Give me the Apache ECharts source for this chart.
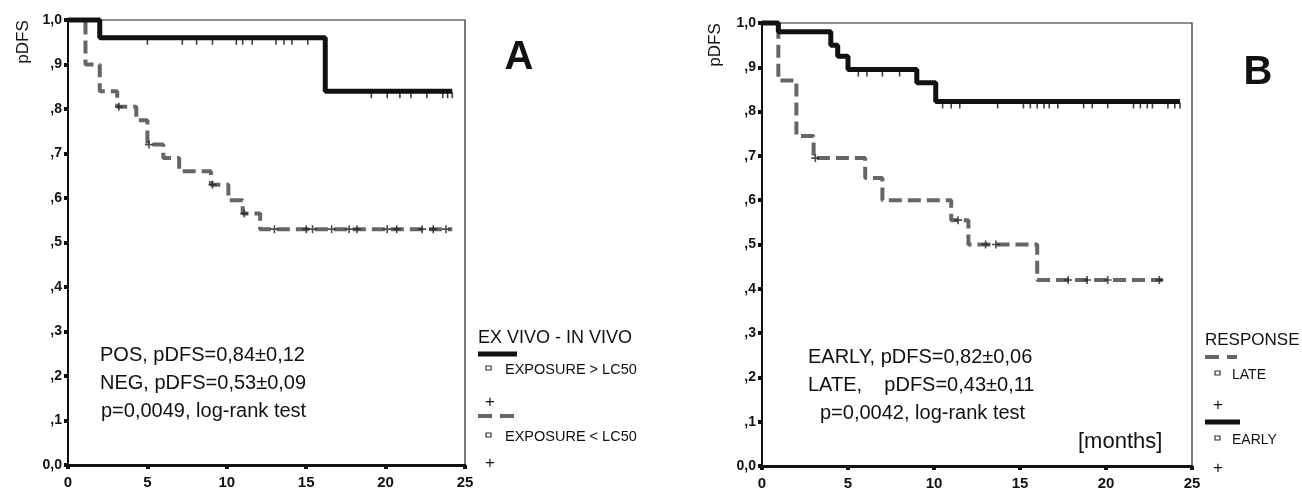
<!DOCTYPE html>
<html>
<head>
<meta charset="utf-8">
<script src="https://cdn.jsdelivr.net/npm/echarts@6/dist/echarts.min.js"></script>
<style>
  html, body { margin: 0; background: #fff; }
  #chart { width: 1302px; height: 491px; }
</style>
</head>
<body>
<div id="chart"></div>
<script>
// panel A: ex vivo - in vivo exposure (months, pDFS)
const aPosTime = [0, 2.0, 16.2, 24.2];
const aPosSurv = [1.0, 0.96, 0.84, 0.84];
const aPosCens = [5.0, 7.2, 8.1, 9.1, 10.6, 11.0, 11.6, 13.1, 13.6, 14.1, 15.1, 19.1, 20.1, 20.9, 21.6, 22.6, 23.6, 23.9, 24.2];
const aNegTime = [0, 1.1, 2.0, 3.1, 4.3, 5.0, 6.0, 7.0, 9.0, 10.1, 11.0, 12.1, 24.2];
const aNegSurv = [1.0, 0.90, 0.84, 0.805, 0.775, 0.72, 0.69, 0.66, 0.63, 0.595, 0.565, 0.53, 0.53];
const aNegCens = [3.2, 5.1, 9.1, 11.1, 13.0, 15.0, 15.4, 16.6, 17.7, 18.2, 20.1, 20.7, 22.3, 23.0, 23.8];

// panel B: response
const bEarlyTime = [0, 0.95, 4.0, 4.4, 5.0, 9.0, 10.1, 24.3];
const bEarlySurv = [1.0, 0.98, 0.95, 0.925, 0.895, 0.865, 0.823, 0.823];
const bEarlyCens = [5.6, 6.1, 7.0, 8.0, 10.5, 11.0, 11.5, 13.7, 15.2, 15.6, 16.0, 16.4, 16.7, 17.2, 18.7, 19.2, 20.1, 21.6, 22.0, 22.4, 22.7, 23.6, 24.0, 24.3];
const bLateTime = [0, 0.95, 2.0, 3.0, 6.0, 7.0, 11.0, 12.0, 16.0, 23.3];
const bLateSurv = [1.0, 0.87, 0.745, 0.695, 0.65, 0.60, 0.555, 0.50, 0.42, 0.42];
const bLateCens = [3.1, 11.4, 13.0, 13.6, 17.8, 18.9, 20.1, 23.1];

const yTickLabels = ['0,0', ',1', ',2', ',3', ',4', ',5', ',6', ',7', ',8', ',9', '1,0'];

const FONT = 'Liberation Sans, Arial, sans-serif';
const DASH_COLOR = '#666';
const PLUS = 'path://M3.2,0H4.8V3.2H8V4.8H4.8V8H3.2V4.8H0V3.2H3.2Z';

function pairs(t, s) {
  return t.map((x, i) => [x, s[i]]);
}
// value of the step curve at time x
function survAt(t, s, x) {
  let v = s[0];
  for (let i = 0; i < t.length; i++) if (t[i] <= x) v = s[i];
  return v;
}
function censPts(c, t, s) {
  return c.map(x => [x, survAt(t, s, x)]);
}

function xAx(idx) {
  return {
    gridIndex: idx, type: 'value', min: 0, max: 25, interval: 5,
    axisLine: { lineStyle: { color: '#111', width: 3 } },
    axisTick: { length: 4, lineStyle: { color: '#111', width: 4 } },
    axisLabel: { color: '#111', fontFamily: FONT, fontSize: 15, fontWeight: 'bold', margin: 10 },
    splitLine: { show: false }
  };
}
function yAx(idx) {
  return {
    gridIndex: idx, type: 'value', min: 0, max: 1, interval: 0.1,
    axisLine: { show: true, lineStyle: { color: '#111', width: 2 } },
    axisTick: { show: true, length: 4, lineStyle: { color: '#111', width: 4 } },
    axisLabel: {
      color: '#111', fontFamily: FONT, fontSize: 14, fontWeight: 'bold', margin: 6,
      formatter: v => yTickLabels[Math.round(v * 10)]
    },
    splitLine: { show: false }
  };
}
function stepLine(idx, data, dashed) {
  return {
    type: 'line', xAxisIndex: idx, yAxisIndex: idx, step: 'end', symbol: 'none',
    clip: false, data: data, z: dashed ? 2 : 3,
    lineStyle: dashed
      ? { color: DASH_COLOR, width: 4, type: [13, 6] }
      : { color: '#111', width: 5 }
  };
}
function tickMarks(idx, data) {
  return {
    type: 'scatter', xAxisIndex: idx, yAxisIndex: idx, data: data, clip: false,
    symbol: 'rect', symbolSize: [1.6, 6], symbolOffset: [0, 4],
    itemStyle: { color: '#111' }, z: 4, silent: true
  };
}
function plusMarks(idx, data) {
  return {
    type: 'scatter', xAxisIndex: idx, yAxisIndex: idx, data: data, clip: false,
    symbol: PLUS, symbolSize: 8,
    itemStyle: { color: '#222' }, z: 4, silent: true
  };
}

function txt(x, y, s, size, extra) {
  return {
    type: 'text', x: x, y: y,
    style: Object.assign({
      text: s, font: size + 'px ' + FONT, fill: '#111',
      textAlign: 'left', textVerticalAlign: 'middle'
    }, extra || {})
  };
}
function hline(x1, x2, y, dashed) {
  return {
    type: 'line', shape: { x1: x1, y1: y, x2: x2, y2: y },
    style: dashed
      ? { stroke: DASH_COLOR, lineWidth: 4, lineDash: [14, 8] }
      : { stroke: '#111', lineWidth: 5 }
  };
}
function box(x, y) {
  return { type: 'rect', shape: { x: x, y: y, width: 5, height: 4 }, style: { fill: 'none', stroke: '#333', lineWidth: 1.2 } };
}

const chart = echarts.init(document.getElementById('chart'), null, { renderer: 'canvas' });

const option = {
  backgroundColor: '#fff',
  animation: false,
  grid: [
    { left: 68, top: 20, width: 397, height: 445, show: true, borderColor: '#222', borderWidth: 1.2, backgroundColor: 'transparent' },
    { left: 762, top: 23, width: 430, height: 445, show: true, borderColor: '#222', borderWidth: 1.2, backgroundColor: 'transparent' }
  ],
  xAxis: [xAx(0), xAx(1)],
  yAxis: [yAx(0), yAx(1)],
  series: [
    stepLine(0, pairs(aNegTime, aNegSurv), true),
    stepLine(0, pairs(aPosTime, aPosSurv), false),
    tickMarks(0, censPts(aPosCens, aPosTime, aPosSurv)),
    plusMarks(0, censPts(aNegCens, aNegTime, aNegSurv)),
    stepLine(1, pairs(bLateTime, bLateSurv), true),
    stepLine(1, pairs(bEarlyTime, bEarlySurv), false),
    tickMarks(1, censPts(bEarlyCens, bEarlyTime, bEarlySurv)),
    plusMarks(1, censPts(bLateCens, bLateTime, bLateSurv))
  ],
  graphic: [
    // panel A
    { type: 'text', x: 23, y: 42, rotation: Math.PI / 2,
      style: { text: 'pDFS', font: '17px ' + FONT, fill: '#111', textAlign: 'center', textVerticalAlign: 'middle' } },
    txt(519, 58, 'A', 40, { font: 'bold 40px ' + FONT, textAlign: 'center' }),
    txt(100, 355, 'POS, pDFS=0,84\u00b10,12', 20),
    txt(100, 383, 'NEG, pDFS=0,53\u00b10,09', 20),
    txt(101, 411, 'p=0,0049, log-rank test', 20),
    txt(478, 338, 'EX VIVO - IN VIVO', 18),
    hline(478, 517, 354, false),
    box(486, 366),
    txt(505, 370, 'EXPOSURE > LC50', 14.5),
    txt(490, 402, '+', 17, { textAlign: 'center' }),
    hline(478, 517, 416, true),
    box(486, 433),
    txt(505, 437, 'EXPOSURE < LC50', 14.5),
    txt(490, 463, '+', 17, { textAlign: 'center' }),
    // panel B
    { type: 'text', x: 715, y: 45, rotation: Math.PI / 2,
      style: { text: 'pDFS', font: '17px ' + FONT, fill: '#111', textAlign: 'center', textVerticalAlign: 'middle' } },
    txt(1258, 73, 'B', 40, { font: 'bold 40px ' + FONT, textAlign: 'center' }),
    txt(808, 357, 'EARLY, pDFS=0,82\u00b10,06', 20),
    txt(808, 385, 'LATE,    pDFS=0,43\u00b10,11', 20),
    txt(820, 413, 'p=0,0042, log-rank test', 20),
    txt(1078, 442, '[months]', 22),
    txt(1205, 340, 'RESPONSE', 17),
    hline(1205, 1237, 357, true),
    box(1215, 371),
    txt(1232, 375, 'LATE', 14),
    txt(1218, 405, '+', 17, { textAlign: 'center' }),
    hline(1205, 1240, 422, false),
    box(1215, 436),
    txt(1232, 440, 'EARLY', 14),
    txt(1218, 468, '+', 17, { textAlign: 'center' })
  ]
};

chart.setOption(option);
window.addEventListener('resize', function () {
  chart.resize();
});
</script>
</body>
</html>
